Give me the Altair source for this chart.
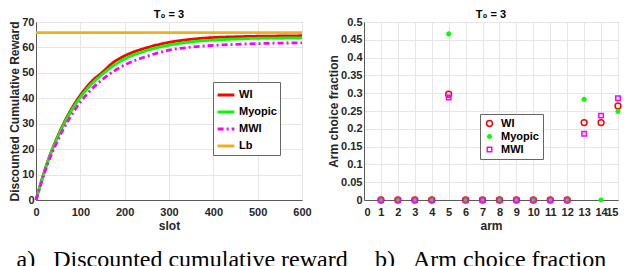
import altair as alt
import pandas as pd

# ---------------- data: left panel (discounted cumulative reward) ----------------
slots = [0, 25, 50, 75, 100, 125, 150, 175, 200, 250, 300, 350, 400, 450, 500, 550, 600]
wi_reward = [0, 14.5, 25.5, 34.3, 41.2, 46.5, 50.3, 54.2, 56.7, 59.9, 62.0, 63.2, 63.9, 64.2, 64.4, 64.5, 64.6]
myopic_reward = [0, 14.3, 25.1, 33.7, 40.4, 45.6, 49.5, 52.9, 55.5, 58.8, 60.9, 62.2, 62.9, 63.3, 63.6, 63.7, 63.8]
mwi_reward = [0, 13.6, 23.8, 32.0, 38.5, 43.5, 47.4, 50.6, 53.1, 56.5, 58.9, 60.1, 60.8, 61.2, 61.5, 61.7, 61.8]
lb_slots = [0, 600]
lb_reward = [65.8, 65.8]
series_left = ["WI", "Myopic", "MWI", "Lb"]
left_x_ticks = [0, 100, 200, 300, 400, 500, 600]
left_y_ticks = [0, 10, 20, 30, 40, 50, 60, 70]

# ---------------- data: right panel (arm choice fraction) ----------------
arms = list(range(1, 16))
wi_frac = [0, 0, 0, 0, 0.297, 0, 0, 0, 0, 0, 0, 0, 0.2175, 0.2175, 0.264]
myopic_frac = [0, 0, 0, 0, 0.4665, 0, 0, 0, 0, 0, 0, 0, 0.2825, 0, 0.249]
mwi_frac = [0, 0, 0, 0, 0.288, 0, 0, 0, 0, 0, 0, 0, 0.186, 0.237, 0.286]
series_right = ["WI ", "Myopic ", "MWI "]
right_x_ticks = list(range(0, 16))
right_y_ticks = [0, 0.05, 0.1, 0.15, 0.2, 0.25, 0.3, 0.35, 0.4, 0.45, 0.5]

title_text = "T\u2080 = 3"
caption_a = "a)\u00a0\u00a0\u00a0Discounted cumulative reward"
caption_b = "b)\u00a0\u00a0\u00a0Arm choice fraction"

# ---------------- tables ----------------
rows = []
for name, vals in [("WI", wi_reward), ("Myopic", myopic_reward), ("MWI", mwi_reward)]:
    for s, v in zip(slots, vals):
        rows.append({"slot": s, "reward": v, "curve": name})
for s, v in zip(lb_slots, lb_reward):
    rows.append({"slot": s, "reward": v, "curve": "Lb"})
df_left = pd.DataFrame(rows)

rows = []
for name, vals in zip(series_right, [wi_frac, myopic_frac, mwi_frac]):
    for a, v in zip(arms, vals):
        rows.append({"arm": a, "frac": v, "policy": name})
df_right = pd.DataFrame(rows)

FONT = "Liberation Sans"
DARK = "#262626"
W_L, W_R, H, GAP = 266, 254, 178, 62


def text_layer(txt, x, y, font, size, weight, align):
    return alt.Chart(alt.Data(values=[{"t": txt}])).mark_text(
        font=font, fontSize=size, fontWeight=weight, align=align,
        baseline="alphabetic", color="black"
    ).encode(text="t:N", x=alt.value(x), y=alt.value(y))


left_legend = alt.Legend(
    title=None, orient="none", legendX=177, legendY=60,
    strokeColor="#666666", fillColor="white", padding=3,
    labelFont=FONT, labelFontWeight="bold", labelFontSize=11, labelColor="black",
    symbolType="stroke", symbolSize=280, labelOffset=3, rowPadding=1,
)

left_lines = alt.Chart(df_left).mark_line(interpolate="monotone").encode(
    x=alt.X("slot:Q", scale=alt.Scale(domain=[0, 600], nice=False),
            axis=alt.Axis(values=left_x_ticks, title="slot", labelFlush=False)),
    y=alt.Y("reward:Q", scale=alt.Scale(domain=[0, 70], nice=False),
            axis=alt.Axis(values=left_y_ticks, title="Discounted Cumulative Reward")),
    color=alt.Color("curve:N", sort=series_left,
                    scale=alt.Scale(domain=series_left,
                                    range=["#ff0000", "#00ff00", "#ff00ff", "#EDB120"]),
                    legend=left_legend),
    strokeDash=alt.StrokeDash("curve:N", sort=series_left,
                              scale=alt.Scale(domain=series_left,
                                              range=[[1, 0], [1, 0], [6, 3, 2, 3], [1, 0]]),
                              legend=left_legend),
    strokeWidth=alt.StrokeWidth("curve:N", sort=series_left,
                                scale=alt.Scale(domain=series_left, range=[2.8, 2.8, 2.2, 2.2]),
                                legend=left_legend),
)

left = alt.layer(
    left_lines,
    text_layer(title_text, W_L / 2, -4, FONT, 11, "bold", "center"),
    text_layer(caption_a, -19.5, 245, "Liberation Serif", 24, "normal", "left"),
).properties(width=W_L, height=H)

asterisk = "M-1,0L1,0M0,-1L0,1M-0.7,-0.7L0.7,0.7M-0.7,0.7L0.7,-0.7"
right_legend = alt.Legend(
    title=None, orient="none", legendX=116, legendY=92,
    strokeColor="#666666", fillColor="white", padding=4,
    labelFont=FONT, labelFontWeight="bold", labelFontSize=11, labelColor="black",
    labelOffset=6, rowPadding=0, symbolStrokeWidth=1.5,
)

right_pts = alt.Chart(df_right).mark_point(filled=False, strokeWidth=1.5, opacity=1).encode(
    x=alt.X("arm:Q", scale=alt.Scale(domain=[0, 15], nice=False),
            axis=alt.Axis(values=right_x_ticks, title="arm", labelOverlap=False, labelFlush=True)),
    y=alt.Y("frac:Q", scale=alt.Scale(domain=[0, 0.5], nice=False),
            axis=alt.Axis(values=right_y_ticks, format="~g", title="Arm choice fraction")),
    color=alt.Color("policy:N", sort=series_right,
                    scale=alt.Scale(domain=series_right, range=["#ff0000", "#00ff00", "#ff00ff"]),
                    legend=right_legend),
    shape=alt.Shape("policy:N", sort=series_right,
                    scale=alt.Scale(domain=series_right, range=["circle", asterisk, "square"]),
                    legend=right_legend),
    size=alt.Size("policy:N", sort=series_right,
                  scale=alt.Scale(domain=series_right, range=[34, 20, 30]),
                  legend=right_legend),
)

right = alt.layer(
    right_pts,
    text_layer(title_text, W_R / 2, -4, FONT, 11, "bold", "center"),
    text_layer(caption_b, 11, 245, "Liberation Serif", 24, "normal", "left"),
).properties(width=W_R, height=H)

chart = alt.hconcat(left, right, spacing=GAP, bounds="flush").resolve_scale(
    color="independent", shape="independent", size="independent",
    strokeDash="independent", strokeWidth="independent",
).resolve_legend(
    color="independent", shape="independent", size="independent",
    strokeDash="independent", strokeWidth="independent",
).properties(
    padding={"left": 0, "top": 0, "right": 0, "bottom": 0}
).configure_axis(
    labelFont=FONT, labelFontWeight="bold", labelFontSize=11, labelColor=DARK,
    titleFont=FONT, titleFontWeight="bold", titleFontSize=12, titleColor=DARK,
    gridColor="#e6e6e6", gridWidth=1, domainColor="#5a5a5a", domainWidth=1, ticks=False,
).configure_axisX(labelPadding=6, titlePadding=3).configure_axisY(
    labelPadding=2, titlePadding=0
).configure_view(stroke="#5a5a5a", strokeWidth=1)

chart.save("out.html", embed_options={"renderer": "svg", "actions": False})
